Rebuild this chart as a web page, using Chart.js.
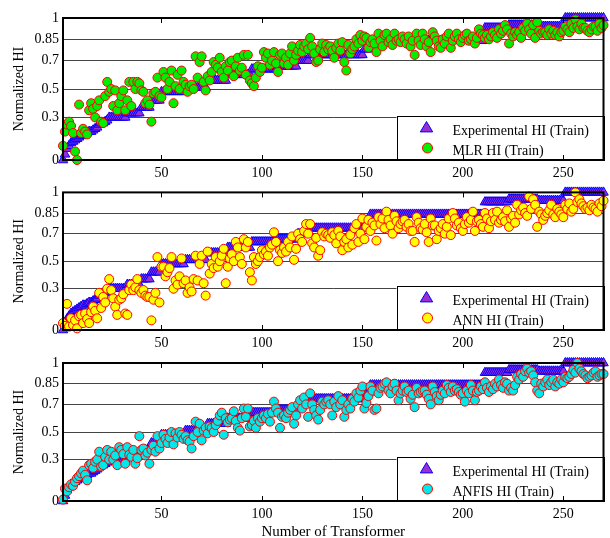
<!DOCTYPE html>
<html lang="en">
<head>
<meta charset="UTF-8">
<title>Normalized HI (Train)</title>
<script src="https://cdn.jsdelivr.net/npm/chart.js"></script>
<style>
  html, body { margin: 0; padding: 0; background: #fff; overflow: hidden; }
  body { width: 610px; height: 538px; position: relative; }
  canvas { position: absolute; left: 0; }
</style>
</head>
<body>
<canvas id="mlrChart" width="610" height="180" style="top:0"></canvas>
<canvas id="annChart" width="610" height="170" style="top:180px"></canvas>
<canvas id="anfisChart" width="610" height="191" style="top:350px"></canvas>
<script>
// tick labels
const xTicks = [50, 100, 150, 200, 250];
const yTicks = [0, 0.3, 0.5, 0.7, 0.85, 1];

// Experimental HI (sorted, shared by all three panels)
const expHI = [
  0, 0.04, 0.08, 0.1, 0.12, 0.13, 0.14, 0.15, 0.16, 0.17,
  0.18, 0.18, 0.19, 0.2, 0.2, 0.21, 0.22, 0.23, 0.25, 0.26,
  0.26, 0.27, 0.28, 0.3, 0.3, 0.3, 0.3, 0.3, 0.3, 0.3,
  0.3, 0.3, 0.33, 0.33, 0.33, 0.33, 0.33, 0.33, 0.33, 0.37,
  0.37, 0.37, 0.37, 0.37, 0.42, 0.42, 0.42, 0.42, 0.42, 0.48,
  0.48, 0.48, 0.48, 0.48, 0.48, 0.48, 0.48, 0.48, 0.48, 0.48,
  0.48, 0.51, 0.51, 0.51, 0.51, 0.51, 0.51, 0.51, 0.51, 0.51,
  0.51, 0.51, 0.56, 0.56, 0.56, 0.56, 0.56, 0.56, 0.56, 0.56,
  0.56, 0.56, 0.6, 0.6, 0.6, 0.6, 0.6, 0.6, 0.6, 0.6,
  0.6, 0.6, 0.6, 0.6, 0.64, 0.64, 0.64, 0.64, 0.64, 0.64,
  0.64, 0.64, 0.64, 0.64, 0.64, 0.64, 0.64, 0.66, 0.66, 0.66,
  0.66, 0.66, 0.66, 0.66, 0.66, 0.66, 0.66, 0.7, 0.7, 0.7,
  0.7, 0.7, 0.7, 0.74, 0.74, 0.74, 0.74, 0.74, 0.74, 0.74,
  0.74, 0.74, 0.74, 0.74, 0.74, 0.74, 0.74, 0.74, 0.74, 0.74,
  0.74, 0.74, 0.74, 0.74, 0.74, 0.74, 0.74, 0.74, 0.74, 0.74,
  0.78, 0.78, 0.78, 0.84, 0.84, 0.84, 0.84, 0.84, 0.84, 0.84,
  0.84, 0.84, 0.84, 0.84, 0.84, 0.84, 0.84, 0.84, 0.84, 0.84,
  0.84, 0.84, 0.84, 0.84, 0.84, 0.84, 0.84, 0.84, 0.84, 0.84,
  0.84, 0.84, 0.84, 0.84, 0.84, 0.84, 0.84, 0.84, 0.84, 0.84,
  0.84, 0.84, 0.84, 0.84, 0.84, 0.84, 0.84, 0.84, 0.84, 0.84,
  0.84, 0.84, 0.84, 0.84, 0.84, 0.84, 0.84, 0.84, 0.84, 0.84,
  0.93, 0.93, 0.93, 0.93, 0.93, 0.93, 0.93, 0.93, 0.93, 0.93,
  0.93, 0.93, 0.95, 0.95, 0.95, 0.95, 0.95, 0.95, 0.95, 0.95,
  0.95, 0.95, 0.95, 0.95, 0.95, 0.95, 0.95, 0.94, 0.94, 0.94,
  0.94, 0.94, 0.94, 0.94, 0.94, 0.94, 0.94, 0.94, 0.94, 0.94,
  1, 1, 1, 1, 1, 1, 1, 1, 1, 1,
  1, 1, 1, 1, 1, 1, 1, 1, 1, 1
];

const mlrHI = [
  0.1, 0.2, 0.25, 0.27, 0.24, 0.19, 0.06, 0.0, 0.39, 0.19,
  0.22, 0.2, 0.18, 0.35, 0.4, 0.36, 0.3, 0.38, 0.42, 0.27,
  0.26, 0.45, 0.55, 0.48, 0.5, 0.38, 0.49, 0.35, 0.4, 0.45,
  0.49, 0.35, 0.42, 0.55, 0.38, 0.55, 0.5, 0.55, 0.54, 0.49,
  0.48, 0.4, 0.42, 0.39, 0.27, 0.47, 0.48, 0.58, 0.45, 0.44,
  0.62, 0.58, 0.5, 0.55, 0.63, 0.4, 0.52, 0.6, 0.5, 0.63,
  0.55, 0.53, 0.48, 0.52, 0.53, 0.5, 0.73, 0.58, 0.69, 0.73,
  0.55, 0.49, 0.59, 0.56, 0.62, 0.69, 0.67, 0.65, 0.72, 0.62,
  0.58, 0.66, 0.63, 0.69, 0.7, 0.59, 0.66, 0.72, 0.63, 0.65,
  0.74, 0.6, 0.74, 0.56, 0.54, 0.52, 0.58, 0.66, 0.62, 0.65,
  0.76, 0.72, 0.75, 0.67, 0.7, 0.76, 0.68, 0.62, 0.74, 0.75,
  0.68, 0.72, 0.67, 0.75, 0.8, 0.7, 0.74, 0.77, 0.81, 0.76,
  0.8, 0.82, 0.78, 0.86, 0.8, 0.75, 0.69, 0.7, 0.78, 0.82,
  0.76, 0.81, 0.78, 0.8, 0.77, 0.72, 0.79, 0.82, 0.77, 0.83,
  0.69, 0.63, 0.81, 0.75, 0.78, 0.8, 0.85, 0.82, 0.88, 0.84,
  0.87, 0.86, 0.79, 0.83, 0.85, 0.82, 0.76, 0.89, 0.84, 0.8,
  0.88, 0.89, 0.83, 0.85, 0.81, 0.89, 0.84, 0.85, 0.83, 0.87,
  0.85, 0.82, 0.87, 0.8, 0.84, 0.74, 0.89, 0.84, 0.81, 0.89,
  0.85, 0.8, 0.83, 0.76, 0.9, 0.87, 0.84, 0.8, 0.79, 0.85,
  0.82, 0.87, 0.89, 0.79, 0.84, 0.87, 0.89, 0.85, 0.83, 0.86,
  0.88, 0.89, 0.84, 0.85, 0.87, 0.82, 0.86, 0.92, 0.89, 0.88,
  0.86, 0.88, 0.85, 0.87, 0.9, 0.88, 0.86, 0.92, 0.89, 0.91,
  0.95, 0.92, 0.82, 0.89, 0.87, 0.9, 0.88, 0.9, 0.86, 0.93,
  0.91, 0.96, 0.92, 0.89, 0.95, 0.86, 0.97, 0.91, 0.89, 0.9,
  0.9, 0.88, 0.92, 0.89, 0.91, 0.88, 0.9, 0.87, 0.9, 0.91,
  0.94, 0.92, 0.9, 0.96, 0.93, 0.99, 0.94, 0.92, 0.96, 0.93,
  0.93, 0.91, 0.9, 0.92, 0.94, 0.94, 0.91, 0.96, 0.93, 0.95
];

const annHI = [
  0.05, 0.03, 0.19, 0.025, 0.085, 0.036, 0.07, 0.012, 0.1, 0.11,
  0.05, 0.12, 0.08, 0.05, 0.13, 0.17, 0.14, 0.085, 0.27, 0.16,
  0.24, 0.2, 0.3, 0.37, 0.29, 0.23, 0.17, 0.11, 0.22, 0.23,
  0.26, 0.12, 0.11, 0.29, 0.33, 0.29, 0.31, 0.37, 0.29, 0.27,
  0.29, 0.25, 0.24, 0.24, 0.07, 0.22, 0.27, 0.53, 0.2, 0.46,
  0.46, 0.39, 0.42, 0.45, 0.53, 0.3, 0.36, 0.33, 0.39, 0.52,
  0.34, 0.36, 0.27, 0.31, 0.28, 0.37, 0.54, 0.36, 0.48, 0.54,
  0.34, 0.25, 0.57, 0.41, 0.48, 0.45, 0.53, 0.46, 0.5, 0.54,
  0.59, 0.34, 0.46, 0.52, 0.55, 0.5, 0.64, 0.6, 0.53, 0.48,
  0.66, 0.6, 0.64, 0.42, 0.36, 0.53, 0.48, 0.5, 0.53, 0.58,
  0.55, 0.57, 0.54, 0.6, 0.62, 0.71, 0.64, 0.5, 0.58, 0.56,
  0.6, 0.57, 0.64, 0.6, 0.68, 0.51, 0.59, 0.7, 0.66, 0.64,
  0.72, 0.77, 0.7, 0.77, 0.63, 0.6, 0.67, 0.54, 0.58, 0.71,
  0.68, 0.7, 0.69, 0.67, 0.71, 0.69, 0.63, 0.72, 0.68, 0.58,
  0.64, 0.66, 0.6, 0.69, 0.62, 0.74, 0.77, 0.64, 0.7, 0.81,
  0.66, 0.75, 0.8, 0.72, 0.78, 0.76, 0.65, 0.82, 0.77, 0.81,
  0.74, 0.86, 0.8, 0.76, 0.7, 0.83, 0.79, 0.74, 0.77, 0.79,
  0.8, 0.75, 0.77, 0.72, 0.72, 0.64, 0.82, 0.78, 0.74, 0.73,
  0.77, 0.71, 0.64, 0.81, 0.76, 0.76, 0.66, 0.72, 0.74, 0.77,
  0.7, 0.75, 0.81, 0.69, 0.85, 0.81, 0.76, 0.78, 0.74, 0.72,
  0.77, 0.82, 0.78, 0.8, 0.86, 0.72, 0.79, 0.8, 0.77, 0.75,
  0.85, 0.81, 0.74, 0.79, 0.85, 0.8, 0.86, 0.78, 0.8, 0.82,
  0.79, 0.87, 0.75, 0.81, 0.83, 0.78, 0.91, 0.84, 0.87, 0.89,
  0.85, 0.83, 0.97, 0.88, 0.95, 0.91, 0.75, 0.86, 0.84, 0.8,
  0.83, 0.85, 0.87, 0.91, 0.84, 0.82, 0.88, 0.86, 0.84, 0.82,
  0.91, 0.88, 0.92, 0.86, 0.88, 1.0, 0.93, 0.95, 0.92, 0.9,
  0.88, 0.89, 0.87, 0.91, 0.89, 0.88, 0.86, 0.92, 0.9, 0.94
];

const anfisHI = [
  0.01, 0.09, 0.07, 0.1, 0.12, 0.11, 0.14, 0.165, 0.18, 0.2,
  0.22, 0.19, 0.15, 0.26, 0.27, 0.24, 0.285, 0.3, 0.357, 0.25,
  0.26, 0.32, 0.37, 0.3, 0.357, 0.3, 0.33, 0.26, 0.39, 0.37,
  0.34, 0.27, 0.39, 0.335, 0.32, 0.37, 0.27, 0.31, 0.47, 0.37,
  0.38, 0.33, 0.35, 0.27, 0.37, 0.4, 0.357, 0.47, 0.38, 0.42,
  0.48, 0.45, 0.42, 0.46, 0.5, 0.41, 0.49, 0.46, 0.5, 0.48,
  0.45, 0.47, 0.44, 0.43, 0.38, 0.47, 0.575, 0.5, 0.56, 0.44,
  0.51, 0.53, 0.49, 0.54, 0.53, 0.5, 0.55, 0.58, 0.62, 0.64,
  0.48, 0.6, 0.57, 0.59, 0.6, 0.65, 0.58, 0.53, 0.51, 0.6,
  0.67, 0.61, 0.67, 0.54, 0.55, 0.58, 0.53, 0.6, 0.575, 0.6,
  0.62, 0.6, 0.63, 0.575, 0.64, 0.72, 0.67, 0.64, 0.53, 0.61,
  0.62, 0.6, 0.64, 0.66, 0.68, 0.56, 0.62, 0.7, 0.73, 0.67,
  0.75, 0.7, 0.61, 0.78, 0.7, 0.66, 0.62, 0.59, 0.66, 0.72,
  0.7, 0.72, 0.73, 0.7, 0.62, 0.72, 0.68, 0.76, 0.7, 0.73,
  0.61, 0.66, 0.7, 0.67, 0.74, 0.72, 0.78, 0.75, 0.8, 0.83,
  0.67, 0.71, 0.76, 0.83, 0.8, 0.66, 0.67, 0.78, 0.82, 0.83,
  0.85, 0.86, 0.8, 0.78, 0.83, 0.85, 0.8, 0.73, 0.78, 0.8,
  0.83, 0.79, 0.8, 0.74, 0.77, 0.68, 0.82, 0.78, 0.79, 0.8,
  0.8, 0.77, 0.74, 0.7, 0.83, 0.79, 0.76, 0.73, 0.77, 0.8,
  0.78, 0.84, 0.82, 0.79, 0.83, 0.8, 0.81, 0.79, 0.77, 0.78,
  0.72, 0.8, 0.78, 0.84, 0.8, 0.73, 0.79, 0.8, 0.83, 0.81,
  0.86, 0.82, 0.79, 0.83, 0.81, 0.85, 0.83, 0.88, 0.84, 0.82,
  0.86, 0.85, 0.8, 0.82, 0.8, 0.84, 0.9, 0.88, 0.92, 0.9,
  0.94, 0.96, 0.93, 0.94, 0.91, 0.86, 0.8, 0.78, 0.85, 0.83,
  0.86, 0.88, 0.84, 0.86, 0.88, 0.83, 0.86, 0.85, 0.88, 0.86,
  0.9, 0.89, 0.9, 0.92, 0.95, 0.93, 1.0, 0.96, 0.94, 0.92,
  0.91, 0.89, 0.9, 0.91, 0.93, 0.94, 0.9, 0.91, 0.92, 0.92
];

const FONT = '"Liberation Serif", "Times New Roman", serif';
const triFill = '#9a2fd0', triEdge = '#0000ff';

// turn a value list into scatter points, x = transformer number
function toPoints(arr) {
  return arr.map((v, i) => ({ x: i + 1, y: v }));
}

// legend box in the lower right corner of the plot area
const boxLegend = {
  id: 'boxLegend',
  afterDraw(chart, args, opts) {
    const { ctx, chartArea: a } = chart;
    const w = 207, h = 44;
    const x0 = a.right - w, y0 = a.bottom - h;
    ctx.save();
    ctx.fillStyle = '#fff';
    ctx.fillRect(x0, y0, w, h);
    ctx.strokeStyle = '#000';
    ctx.lineWidth = 1;
    ctx.strokeRect(Math.round(x0) + 0.5, Math.round(y0) + 0.5, w, h);

    // triangle marker
    const tx = x0 + 30, ty = y0 + 12, r = 6.5;
    ctx.beginPath();
    ctx.moveTo(tx, ty - r);
    ctx.lineTo(tx + r * 0.95, ty + r * 0.6);
    ctx.lineTo(tx - r * 0.95, ty + r * 0.6);
    ctx.closePath();
    ctx.fillStyle = triFill;
    ctx.fill();
    ctx.strokeStyle = triEdge;
    ctx.stroke();

    // circle marker
    ctx.beginPath();
    ctx.arc(x0 + 31, y0 + 32, 5, 0, Math.PI * 2);
    ctx.fillStyle = opts.fill;
    ctx.fill();
    ctx.strokeStyle = '#ff0000';
    ctx.stroke();

    ctx.fillStyle = '#000';
    ctx.font = '14px ' + FONT;
    ctx.textBaseline = 'middle';
    ctx.fillText('Experimental HI (Train)', x0 + 56, y0 + 15);
    ctx.fillText(opts.label, x0 + 56, y0 + 35);
    ctx.restore();
  }
};

// black box round the plot area and inward x tick marks
const frame = {
  id: 'frame',
  afterDraw(chart) {
    const { ctx, chartArea: a, scales } = chart;
    ctx.save();
    ctx.strokeStyle = '#000';
    ctx.lineWidth = 1;
    ctx.beginPath();
    xTicks.forEach(t => {
      const px = Math.round(scales.x.getPixelForValue(t)) + 0.5;
      ctx.moveTo(px, a.bottom);
      ctx.lineTo(px, a.bottom - 5);
      ctx.moveTo(px, a.top);
      ctx.lineTo(px, a.top + 5);
    });
    ctx.stroke();
    ctx.lineWidth = 2;
    ctx.strokeRect(a.left, a.top, a.right - a.left, a.bottom - a.top);
    ctx.restore();
  }
};

function makePanel(id, pred, label, fill, padTop, xHeight, showTitle) {
  return new Chart(document.getElementById(id), {
    type: 'scatter',
    data: {
      datasets: [
        {
          label: label,
          data: toPoints(pred),
          pointStyle: 'circle',
          pointRadius: 4.5,
          backgroundColor: fill,
          borderColor: '#ff0000',
          borderWidth: 1,
          clip: false,
          order: 1
        },
        {
          label: 'Experimental HI (Train)',
          data: toPoints(expHI),
          pointStyle: 'triangle',
          pointRadius: 5.5,
          backgroundColor: triFill,
          borderColor: triEdge,
          borderWidth: 1,
          clip: false,
          order: 2
        }
      ]
    },
    options: {
      responsive: false,
      animation: false,
      events: [],
      layout: { padding: { top: padTop, right: 3, left: 0, bottom: 0 } },
      plugins: {
        legend: { display: false },
        tooltip: { enabled: false },
        boxLegend: { label: label, fill: fill }
      },
      scales: {
        x: {
          type: 'linear',
          min: 1,
          max: 270,
          afterBuildTicks: s => { s.ticks = xTicks.map(v => ({ value: v })); },
          afterFit: s => { s.height = xHeight; },
          grid: { display: false, drawTicks: false },
          border: { display: false },
          ticks: { color: '#000', padding: 5, font: { family: FONT, size: 14 } },
          title: {
            display: showTitle,
            text: 'Number of Transformer',
            color: '#000',
            padding: 0,
            font: { family: FONT, size: 15 }
          }
        },
        y: {
          min: 0,
          max: 1,
          afterBuildTicks: s => { s.ticks = yTicks.map(v => ({ value: v })); },
          afterFit: s => { s.width = 63; },
          grid: { color: '#444', lineWidth: 1, drawTicks: false },
          border: { display: false },
          ticks: {
            color: '#000',
            padding: 4,
            font: { family: FONT, size: 14 },
            callback: v => String(v)
          },
          title: {
            display: true,
            text: 'Normalized HI',
            color: '#000',
            padding: { top: 11, bottom: 10 },
            font: { family: FONT, size: 14 }
          }
        }
      }
    },
    plugins: [boxLegend, frame]
  });
}

makePanel('mlrChart', mlrHI, 'MLR HI (Train)', '#00ee00', 18, 20, false);
makePanel('annChart', annHI, 'ANN HI (Train)', '#ffff00', 11, 20, false);
makePanel('anfisChart', anfisHI, 'ANFIS HI (Train)', '#00e8e8', 13, 40, true);
</script>
</body>
</html>
